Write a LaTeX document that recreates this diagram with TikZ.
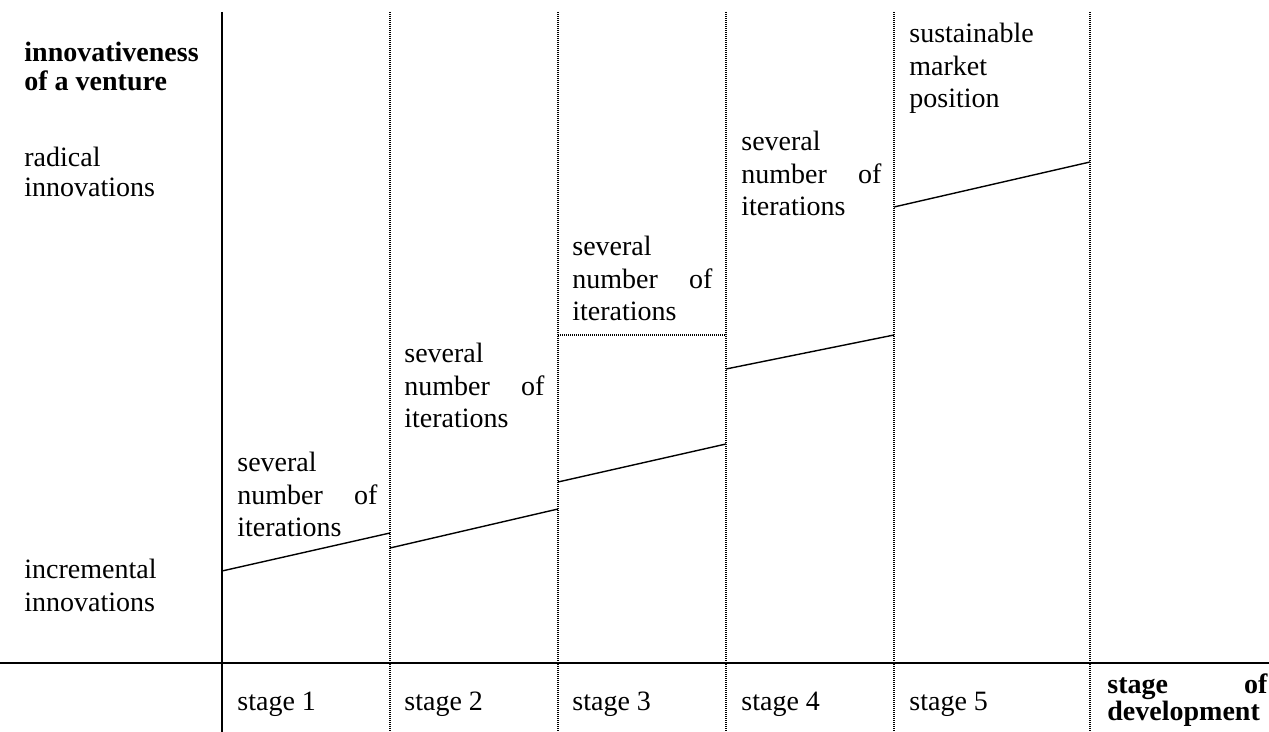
\documentclass[tikz,border=0pt]{standalone}
\usepackage{fontspec}
\setmainfont{Liberation Serif}
\usepackage{tikz}

\newcommand{\severaliter}{several\\ number\hfill of\\ iterations}

\tikzset{
    lbl/.style={anchor=base west, inner sep=0pt, align=left,
        font=\fontsize{14}{16.25}\selectfont},
    iterbox/.style={lbl, text width=70pt, align=justify},
    axisline/.style={line width=1pt},
    gridline/.style={line width=0.9pt, dash pattern=on 0.5pt off 0.5pt},
    levelline/.style={line width=0.7pt}
}

\begin{document}
\begin{tikzpicture}[x=0.5pt,y=-0.5pt]
        \useasboundingbox (0,0) rectangle (1269,732);
        % axes
        \coordinate (top0) at (222,12);
        \coordinate (bot0) at (222,732);
        \coordinate (west) at (0,663);
        \coordinate (east) at (1269,663);
        \draw[axisline] (top0) -- (bot0);
        \draw[axisline] (west) -- (east);
        % stage borders
        \foreach \i/\x in {1/390,2/558,3/726,4/894,5/1090}{
            \coordinate (top\i) at (\x,12);
            \coordinate (bot\i) at (\x,732);
            \draw[gridline] (top\i) -- (bot\i);
        }
        \draw[gridline] (558,335) -- (726,335);
        % levels of the stages
        \draw[levelline] (222,571) -- (390,533);
        \draw[levelline] (390,548) -- (558,509);
        \draw[levelline] (558,482) -- (726,444);
        \draw[levelline] (726,369) -- (894,335);
        \draw[levelline] (894,207) -- (1090,162);
        % vertical axis labels (anchored at the last line)
        \node[lbl, font=\fontsize{14}{14.5}\selectfont\bfseries] (innov) at (24,91) {innovativeness\\of a venture};
        \node[lbl, font=\fontsize{14}{15}\selectfont] (radical) at (24,197) {radical\\innovations};
        \node[lbl] (increm) at (24,611) {incremental\\innovations};
        % stage texts (anchored at the first line)
        \node[iterbox] (it1) at (237,472) {\severaliter};
        \node[iterbox] (it2) at (404,363) {\severaliter};
        \node[iterbox] (it3) at (572,256) {\severaliter};
        \node[iterbox] (it4) at (741,151) {\severaliter};
        \node[lbl] (market) at (909,108) {sustainable\\market\\position};
        % horizontal axis labels
        \node[lbl] (s1) at (237,710) {stage 1};
        \node[lbl] (s2) at (404,710) {stage 2};
        \node[lbl] (s3) at (572,710) {stage 3};
        \node[lbl] (s4) at (741,710) {stage 4};
        \node[lbl] (s5) at (909,710) {stage 5};
        \node[lbl, text width=80pt, align=justify, font=\fontsize{14}{13.5}\selectfont\bfseries] (dev) at (1107,693) {stage\hfill of\\development};
    \end{tikzpicture}
\end{document}
